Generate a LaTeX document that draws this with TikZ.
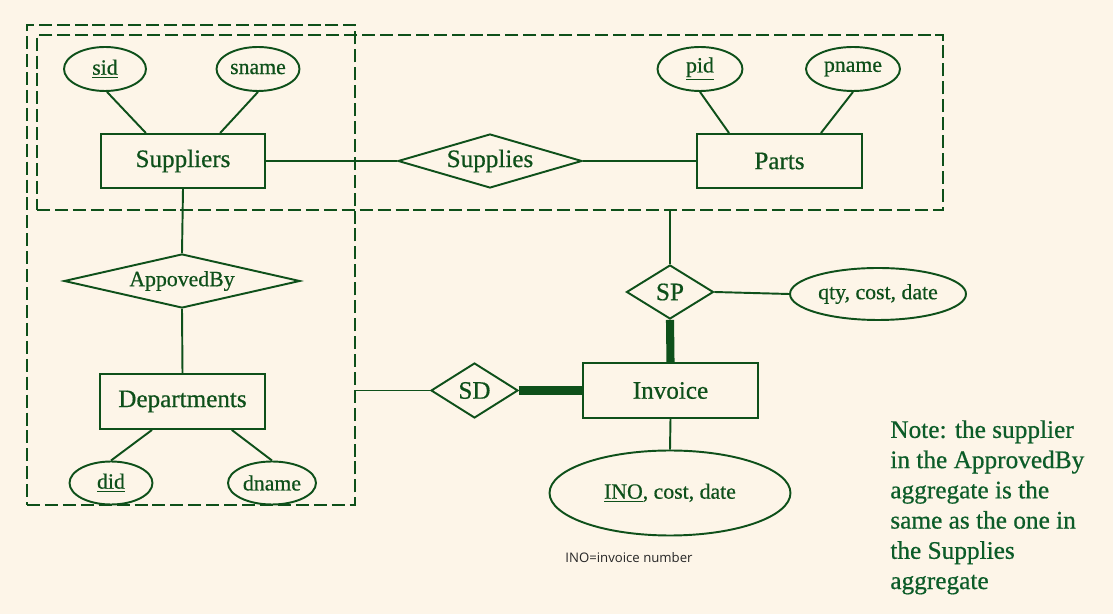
\documentclass[tikz,border=0pt]{standalone}
\usepackage{fontspec}
\setmainfont{Liberation Serif}[FakeBold=0.6]
\newfontfamily\captionfont{Open Sans}
\usetikzlibrary{shapes.geometric}
\definecolor{ergreen}{RGB}{14,80,26}
\definecolor{notegreen}{RGB}{12,92,40}
\definecolor{paper}{RGB}{253,245,232}
\newcommand{\attrfont}{\fontsize{12.4}{14}\selectfont}
\newcommand{\entfont}{\fontsize{14.3}{17}\selectfont}

\begin{document}
\begin{tikzpicture}[x=0.02cm, y=-0.02cm]
    \tikzstyle{entity}=[draw=ergreen, line width=1.1pt, shape=rectangle, text=ergreen, font=\entfont, minimum width=3.3cm, minimum height=1.08cm, inner sep=0pt]
    \tikzstyle{attribute}=[draw=ergreen, line width=1.1pt, shape=ellipse, text=ergreen, font=\attrfont, inner sep=0pt, minimum height=0.88cm]
    \tikzstyle{relation}=[draw=ergreen, line width=1.1pt, shape=diamond, text=ergreen, font=\entfont, inner sep=0pt, minimum height=1.08cm]
    \tikzstyle{aggregate}=[draw=ergreen, line width=1.4pt, dash pattern=on 7.4pt off 2.8pt, shape=rectangle, inner sep=0pt]
    \tikzstyle{link}=[draw=ergreen, line width=1.1pt]
    \tikzstyle{total}=[draw=ergreen, line width=4.6pt]

    \fill [paper] (0,0) rectangle (1113,614);

    % aggregates
    \node [style=aggregate, minimum width=6.56cm, minimum height=9.6cm] (aggappr) at (191,265) {};
    \node [style=aggregate, minimum width=18.12cm, minimum height=3.5cm] (aggsup) at (490,122.5) {};

    % Supplies aggregate
    \node [style=attribute, minimum width=1.64cm] (sid) at (105,69) {\underline{sid}};
    \node [style=attribute, minimum width=1.66cm] (sname) at (258,69) {sname};
    \node [style=entity, minimum width=3.28cm] (sup) at (183,161) {Suppliers};
    \node [style=relation, aspect=3.4, minimum width=3.68cm] (supplies) at (490,161) {Supplies};
    \node [style=entity] (parts) at (779.5,161) {Parts};
    \node [style=attribute, minimum width=1.7cm] (pid) at (700,69) {\underline{pid}};
    \node [style=attribute, minimum width=1.88cm] (pname) at (853,69) {pname};

    % ApprovedBy aggregate
    \node [style=relation, aspect=4.4, minimum width=4.72cm, font=\attrfont] (appr) at (182,281) {AppovedBy};
    \node [style=entity, minimum height=1.1cm] (dept) at (182.5,401.5) {Departments};
    \node [style=attribute, minimum width=1.66cm, minimum height=0.86cm] (did) at (111,483) {\underline{did}};
    \node [style=attribute, minimum width=1.76cm, minimum height=0.86cm] (dname) at (272,483) {dname};

    % invoice part
    \node [style=relation, aspect=1.6, minimum width=1.74cm] (sp) at (670,292) {SP};
    \node [style=attribute, minimum width=3.52cm, minimum height=1.04cm] (spattr) at (878,294) {qty, cost, date};
    \node [style=entity, minimum width=3.5cm, minimum height=1.1cm] (inv) at (670.5,390.5) {Invoice};
    \node [style=relation, aspect=1.6, minimum width=1.74cm, minimum height=1.1cm] (sd) at (474.5,390.5) {SD};
    \node [style=attribute, minimum width=4.82cm, minimum height=1.7cm] (invattr) at (670,493) {\underline{INO}, cost, date};

    \node [font=\captionfont\fontsize{7.5}{9}\selectfont, text=black!85] (caption) at (629,558) {INO=invoice number};
    \node [anchor=north west, align=left, inner sep=0pt, text=notegreen, font=\fontsize{14.4}{17.2}\selectfont] (note) at (890,420)
        {Note: the supplier\\in the ApprovedBy\\aggregate is the\\same as the one in\\the Supplies\\aggregate};

    % connectors
    \draw [style=link] (sid.-85) to (sup.143);
    \draw [style=link] (sname.south) to (sup.37);
    \draw [style=link] (pid.south) to (parts.151);
    \draw [style=link] (pname.south) to (parts.34);
    \draw [style=link] (sup.east) to (supplies.west);
    \draw [style=link] (supplies.east) to (parts.west);
    \draw [style=link] (sup.south) to (appr.north);
    \draw [style=link] (appr.south) to (dept.north);
    \draw [style=link] (dept.223) to (did.north);
    \draw [style=link] (dept.-30) to (dname.north);
    \draw [style=link] (aggsup.south -| sp.north) to (sp.north);
    \draw [style=link] (sp.east) to (spattr.west);
    \draw [style=total] (sp.south) to (inv.north);
    \draw [style=link] (aggappr.east |- sd.west) to (sd.west);
    \draw [style=total] (sd.east) to (inv.west);
    \draw [style=link] (inv.south) to (invattr.north);
\end{tikzpicture}
\end{document}
